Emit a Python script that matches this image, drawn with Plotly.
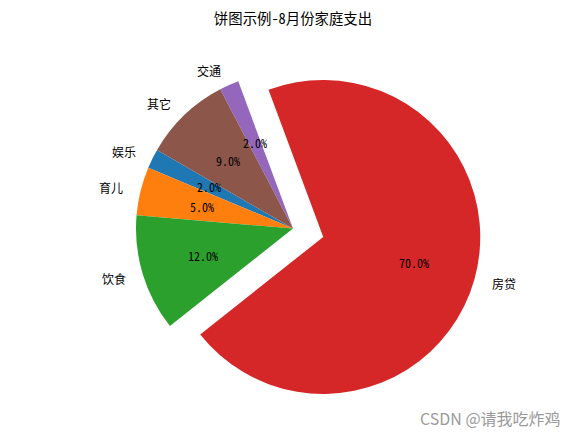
import math
import plotly.graph_objects as go

labels = ["娱乐", "育儿", "饮食", "房贷", "交通", "其它"]
values = [2, 5, 12, 70, 2, 9]
pulls = [0, 0, 0, 0.2, 0, 0]
colors = ["#1f77b4", "#ff7f0e", "#2ca02c", "#d62728", "#9467bd", "#8c564b"]
title_text = "饼图示例-8月份家庭支出"
watermark = "CSDN @请我吃炸鸡"

# the page body has an 8px margin; size the figure so it fills the window
OFF = 8
W, H = 580 - OFF, 435 - OFF
START_ANGLE = 150  # math degrees, counterclockwise

# target pie centre (window px) and radius
CX_T, CY_T, R_T = 293 - OFF, 228.5 - OFF, 157
half = R_T * 1.2
dom_x = [(CX_T - half) / W, (CX_T + half) / W]
dom_y = [1 - (CY_T + half) / H, 1 - (CY_T - half) / H]

total = sum(values)
rotation = 90 - START_ANGLE - 360 * values[0] / total

fig = go.Figure(go.Pie(
    labels=labels, values=values, sort=False, direction="counterclockwise",
    rotation=rotation, pull=pulls, textinfo="none", hoverinfo="label+percent",
    marker=dict(colors=colors, line=dict(width=0)),
    domain=dict(x=dom_x, y=dom_y), showlegend=False,
))

# geometry of the pie (as plotly computes it) to place matplotlib-like texts
dw = W * (dom_x[1] - dom_x[0])
dh = H * (dom_y[1] - dom_y[0])
r_px = min(dw, dh) / 2 / (1 + max(pulls))
cx_px = W * (dom_x[0] + dom_x[1]) / 2
cy_px = H * (dom_y[0] + dom_y[1]) / 2  # from bottom

mono = "Noto Sans Mono CJK SC, Noto Sans CJK SC, sans-serif"
annotations = []
acc = 0
for lab, v, p in zip(labels, values, pulls):
    a0 = START_ANGLE + 360 * acc / total
    a1 = START_ANGLE + 360 * (acc + v) / total
    acc += v
    mid = math.radians((a0 + a1) / 2)
    ox = p * r_px * math.cos(mid)
    oy = p * r_px * math.sin(mid)
    lx = cx_px + ox + 1.1 * r_px * math.cos(mid)
    ly = cy_px + oy + 1.1 * r_px * math.sin(mid)
    annotations.append(dict(
        x=lx / W, y=ly / H, xref="paper", yref="paper", text=lab, showarrow=False,
        xanchor="left" if math.cos(mid) > 0 else "right", yanchor="middle",
        font=dict(family=mono, size=12, color="#000000"),
    ))
    px = cx_px + ox + 0.6 * r_px * math.cos(mid)
    py = cy_px + oy + 0.6 * r_px * math.sin(mid)
    annotations.append(dict(
        x=px / W, y=py / H, xref="paper", yref="paper",
        text=f"{100 * v / total:.1f}%", showarrow=False,
        xanchor="center", yanchor="middle",
        font=dict(family=mono, size=12, color="#000000"),
    ))

annotations.append(dict(
    x=(563 - OFF) / W, y=1 - (418 - OFF) / H, xref="paper", yref="paper", text=watermark,
    showarrow=False, xanchor="right", yanchor="middle",
    font=dict(family="Noto Sans CJK SC, sans-serif", size=16, color="#9a9a9a"),
))

fig.update_layout(
    width=W, height=H, margin=dict(l=0, r=0, t=0, b=0),
    paper_bgcolor="white", plot_bgcolor="white",
    title=dict(text=title_text, x=cx_px / W, xanchor="center", y=1 - (19 - OFF) / H,
               yanchor="middle", font=dict(family=mono, size=14.4, color="#000000")),
    annotations=annotations,
)

fig.write_html("out.html")
